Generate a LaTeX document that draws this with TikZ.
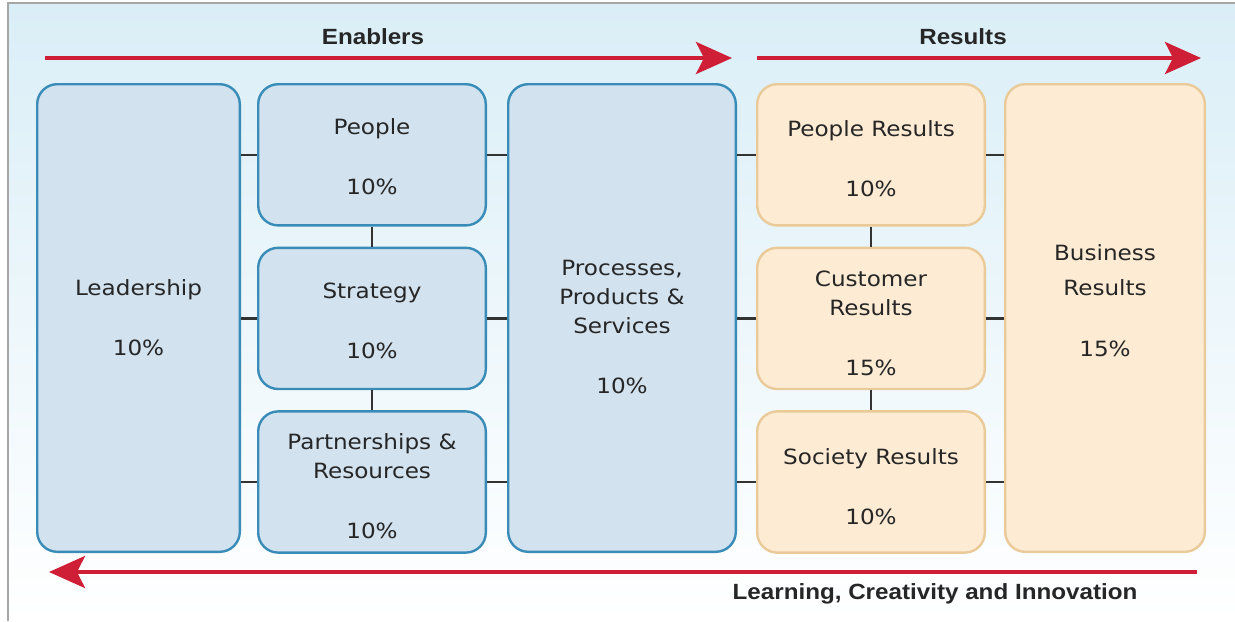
\documentclass[tikz,border=0pt]{standalone}
\usepackage{fontspec}
\setmainfont{Liberation Sans}
\newfontfamily\boxfont[FakeStretch=1.1]{DejaVu Sans}
\newfontfamily\titlefont[FakeStretch=1.1]{Liberation Sans}
\usepackage{xcolor}
\usetikzlibrary{positioning, arrows.meta}

\definecolor{enablerfill}{HTML}{D2E2EF}
\definecolor{enablerline}{HTML}{3A8CB8}
\definecolor{resultfill}{HTML}{FDEBD4}
\definecolor{resultline}{HTML}{EACA98}
\definecolor{flowred}{HTML}{CF1F36}
\definecolor{linkgray}{HTML}{333333}
\definecolor{skyblue}{HTML}{DAEEF7}

\begin{document}
\begin{tikzpicture}[x=0.5pt, y=-0.5pt,
    every node/.style={font=\boxfont\fontsize{10.5}{14.5}\selectfont, text=black!85, align=center},
    enabler/.style={draw=enablerline, fill=enablerfill, line width=1.2pt, rounded corners=10pt, inner sep=0pt},
    result/.style={draw=resultline, fill=resultfill, line width=1.2pt, rounded corners=10pt, inner sep=0pt},
    smallbox/.style={minimum width=113.8pt, minimum height=70.6pt},
    tallbox/.style={minimum height=233.8pt},
    link/.style={draw=linkgray, line width=1.3pt},
    flow/.style={draw=flowred, line width=2pt, -{Stealth[length=18pt, width=16pt, inset=4pt]}},
    title/.style={font=\titlefont\bfseries\fontsize{11}{13}\selectfont, text=black!85}]
        % Background
        \useasboundingbox (0,0) rectangle (1235,621);
        \shade[top color=skyblue, middle color=skyblue!55, bottom color=white] (8,3) rectangle (1235,621);
        \draw[gray!70, line width=0.6pt] (8,621) -- (8,3) -- (1235,3);
        % Components
        \node[enabler, tallbox, minimum width=101.3pt, anchor=north west] (leadership) at (36,83) {Leadership\\[15.5pt]10\%};
        \node[enabler, smallbox, anchor=north west] (people) at ([xshift=8pt]leadership.north east) {\rule{0pt}{9.5pt}People\\[15.5pt]10\%};
        \node[enabler, smallbox, anchor=north] (strategy) at ([yshift=-10pt]people.south) {\rule{0pt}{10.7pt}Strategy\\[15.5pt]10\%};
        \node[enabler, smallbox, anchor=north] (partners) at ([yshift=-10pt]strategy.south) {\rule{0pt}{12pt}Partnerships \&\\Resources\\[15.5pt]10\%};
        \node[enabler, tallbox, minimum width=113.8pt, anchor=north west] (processes) at ([xshift=10pt]people.north east) {\rule{0pt}{16.7pt}Processes,\\Products \&\\Services\\[15.5pt]10\%};
        \node[result, smallbox, anchor=north west] (peopleres) at ([xshift=9.5pt]processes.north east) {\rule{0pt}{12.2pt}People Results\\[15.5pt]10\%};
        \node[result, smallbox, anchor=north] (customerres) at ([yshift=-10pt]peopleres.south) {\rule{0pt}{13pt}Customer\\Results\\[15.5pt]15\%};
        \node[result, smallbox, anchor=north] (societyres) at ([yshift=-10pt]customerres.south) {\rule{0pt}{12.7pt}Society Results\\[15.5pt]10\%};
        \node[result, tallbox, minimum width=99.8pt, anchor=north west, text depth=17pt] (businessres) at ([xshift=9pt]peopleres.north east) {Business\\[3pt]Results\\[16pt]15\%};
        % Links
        \foreach \row in {people, strategy, partners} {
            \draw[link] (leadership.east |- \row) -- (\row.west);
            \draw[link] (\row.east) -- (processes.west |- \row);
        }
        \foreach \row in {peopleres, customerres, societyres} {
            \draw[link] (processes.east |- \row) -- (\row.west);
            \draw[link] (\row.east) -- (businessres.west |- \row);
        }
        \draw[link] (people) -- (strategy);
        \draw[link] (strategy) -- (partners);
        \draw[link] (peopleres) -- (customerres);
        \draw[link] (customerres) -- (societyres);
        % Flow arrows
        \coordinate (enablerstart) at (45,58);
        \coordinate (enablerend) at (732,58);
        \coordinate (resultstart) at (757,58);
        \coordinate (resultend) at (1201,58);
        \coordinate (learnstart) at (1197,572);
        \coordinate (learnend) at (49,572);
        \draw[flow] (enablerstart) -- (enablerend);
        \draw[flow] (resultstart) -- (resultend);
        \draw[flow] (learnstart) -- (learnend);
        \node[title] (enablerslabel) at (373,37) {Enablers};
        \node[title] (resultslabel) at (963,37) {Results};
        \node[title] (learninglabel) at (935,594) {Learning, Creativity and Innovation};
    \end{tikzpicture}
\end{document}
